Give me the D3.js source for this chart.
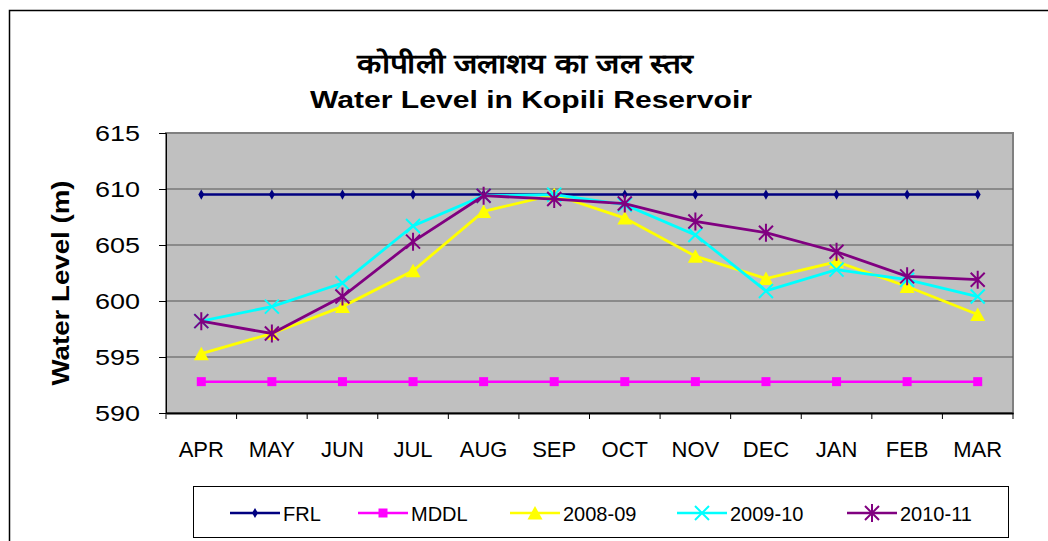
<!DOCTYPE html>
<html>
<head>
<meta charset="utf-8">
<script src="https://cdn.jsdelivr.net/npm/d3@7"></script>
<style>
  body { margin: 0; background: #fff; }
  text { font-family: "Liberation Sans", Arial, sans-serif; }
</style>
</head>
<body>
<div id="chart"></div>
<script>
var width = 1048,
    height = 541;

var months = ["APR", "MAY", "JUN", "JUL", "AUG", "SEP", "OCT", "NOV", "DEC", "JAN", "FEB", "MAR"];
var yTicks = [590, 595, 600, 605, 610, 615];

var frl    = [609.5, 609.5, 609.5, 609.5, 609.5, 609.5, 609.5, 609.5, 609.5, 609.5, 609.5, 609.5];
var mddl   = [592.8, 592.8, 592.8, 592.8, 592.8, 592.8, 592.8, 592.8, 592.8, 592.8, 592.8, 592.8];
var y0809  = [595.3, 597.1, 599.5, 602.7, 608.0, 609.5, 607.4, 604.0, 602.0, 603.5, 601.3, 598.8];
var y0910  = [598.2, 599.5, 601.6, 606.7, 609.4, 609.5, 608.6, 605.9, 600.9, 602.8, 601.9, 600.4];
var y1011  = [598.2, 597.1, 600.4, 605.3, 609.4, 609.1, 608.7, 607.1, 606.1, 604.4, 602.2, 601.9];

var series = [
  {name: "FRL",     values: frl,   color: "#000080", marker: "diamond"},
  {name: "MDDL",    values: mddl,  color: "#ff00ff", marker: "square"},
  {name: "2008-09", values: y0809, color: "#ffff00", marker: "triangle"},
  {name: "2009-10", values: y0910, color: "#00ffff", marker: "cross"},
  {name: "2010-11", values: y1011, color: "#800080", marker: "star"}
];

var plot = {left: 166, top: 133, right: 1013, bottom: 413};

var svg = d3.select("#chart").append("svg")
    .attr("width", width)
    .attr("height", height);

// outer chart border
svg.append("rect")
    .attr("x", 9.5).attr("y", 10.5)
    .attr("width", 1060).attr("height", 560)
    .attr("fill", "#fff")
    .attr("stroke", "#000")
    .attr("stroke-width", 1.5);

var x = d3.scaleBand()
    .domain(months)
    .range([plot.left, plot.right]);

var y = d3.scaleLinear()
    .domain([590, 615])
    .range([plot.bottom, plot.top]);

// plot background
svg.append("rect")
    .attr("x", plot.left).attr("y", plot.top)
    .attr("width", plot.right - plot.left)
    .attr("height", plot.bottom - plot.top)
    .attr("fill", "#c0c0c0")
    .attr("stroke", "#808080")
    .attr("stroke-width", 2);

// gridlines
svg.selectAll(".grid")
    .data(yTicks.filter(function(d) { return d > 590 && d < 615; }))
    .enter().append("line")
    .attr("x1", plot.left).attr("x2", plot.right)
    .attr("y1", function(d) { return y(d); })
    .attr("y2", function(d) { return y(d); })
    .attr("stroke", "#555")
    .attr("stroke-width", 1.2);

// y axis
var yAxis = svg.append("g")
    .attr("transform", "translate(" + plot.left + ",0)")
    .call(d3.axisLeft(y).tickValues(yTicks).tickSize(7).tickPadding(19));
yAxis.select(".domain").attr("stroke", "#000").attr("stroke-width", 1);
yAxis.selectAll("text")
    .attr("font-size", 22)
    .attr("font-family", "Liberation Sans, Arial, sans-serif")
    .attr("fill", "#000")
    .attr("textLength", 45)
    .attr("lengthAdjust", "spacingAndGlyphs");

// x axis
var xAxis = svg.append("g")
    .attr("transform", "translate(0," + plot.bottom + ")")
    .call(d3.axisBottom(x).tickSize(0).tickPadding(28));
xAxis.select(".domain").attr("stroke", "#000").attr("stroke-width", 2);
xAxis.selectAll("text")
    .attr("font-size", 22)
    .attr("font-family", "Liberation Sans, Arial, sans-serif")
    .attr("fill", "#000");

// x tick marks between categories
var bounds = months.map(function(m) { return x(m); }).concat([plot.right]);
svg.selectAll(".xtick")
    .data(bounds)
    .enter().append("line")
    .attr("x1", function(d) { return d; })
    .attr("x2", function(d) { return d; })
    .attr("y1", plot.bottom).attr("y2", plot.bottom + 6)
    .attr("stroke", "#000");

function cx(i) { return x(months[i]) + x.bandwidth() / 2; }

function drawMarker(g, type, color) {
  if (type === "diamond") {
    g.append("path").attr("d", d3.symbol(d3.symbolDiamond, 30)())
      .attr("fill", color);
  } else if (type === "square") {
    g.append("rect").attr("x", -4.5).attr("y", -4.5)
      .attr("width", 9).attr("height", 9).attr("fill", color);
  } else if (type === "triangle") {
    g.append("path").attr("d", "M0,-7L7.5,6.5L-7.5,6.5Z").attr("fill", color);
  } else if (type === "cross") {
    g.append("path").attr("d", "M-7,-7L7,7M-7,7L7,-7")
      .attr("stroke", color).attr("stroke-width", 2);
  } else if (type === "star") {
    g.append("path").attr("d", "M-7,-7L7,7M-7,7L7,-7M0,-9L0,9")
      .attr("stroke", color).attr("stroke-width", 2);
  }
}

var line = d3.line()
    .x(function(d, i) { return cx(i); })
    .y(function(d) { return y(d); });

series.forEach(function(s) {
  svg.append("path")
      .datum(s.values)
      .attr("d", line)
      .attr("fill", "none")
      .attr("stroke", s.color)
      .attr("stroke-width", s.name === "FRL" || s.name === "MDDL" ? 2.5 : 2.8);

  s.values.forEach(function(v, i) {
    var g = svg.append("g").attr("transform", "translate(" + cx(i) + "," + y(v) + ")");
    drawMarker(g, s.marker, s.color);
  });
});

// titles
svg.append("text")
    .attr("x", 525).attr("y", 73)
    .attr("text-anchor", "middle")
    .attr("font-size", 27)
    .attr("font-weight", "bold")
    .attr("textLength", 336)
    .attr("lengthAdjust", "spacingAndGlyphs")
    .text("कोपीली जलाशय का जल स्तर");

svg.append("text")
    .attr("x", 531).attr("y", 108)
    .attr("text-anchor", "middle")
    .attr("font-size", 24)
    .attr("font-weight", "bold")
    .attr("textLength", 442)
    .attr("lengthAdjust", "spacingAndGlyphs")
    .text("Water Level in Kopili Reservoir");

svg.append("text")
    .attr("transform", "translate(69,283) rotate(-90)")
    .attr("text-anchor", "middle")
    .attr("font-size", 24)
    .attr("font-weight", "bold")
    .attr("textLength", 205)
    .attr("lengthAdjust", "spacingAndGlyphs")
    .text("Water Level (m)");

// legend
svg.append("rect")
    .attr("x", 193.5).attr("y", 486.5)
    .attr("width", 815).attr("height", 51)
    .attr("fill", "#fff")
    .attr("stroke", "#000")
    .attr("stroke-width", 1);

var legendX = [230, 358, 510, 677, 847];
series.forEach(function(s, i) {
  var g = svg.append("g").attr("transform", "translate(" + legendX[i] + ",513)");
  g.append("line").attr("x1", 0).attr("x2", 50).attr("y1", 0).attr("y2", 0)
    .attr("stroke", s.color).attr("stroke-width", 2.5);
  var m = g.append("g").attr("transform", "translate(25,0)");
  drawMarker(m, s.marker, s.color);
  g.append("text")
    .attr("x", 53).attr("y", 8)
    .attr("font-size", 20)
    .text(s.name);
});
</script>
</body>
</html>
